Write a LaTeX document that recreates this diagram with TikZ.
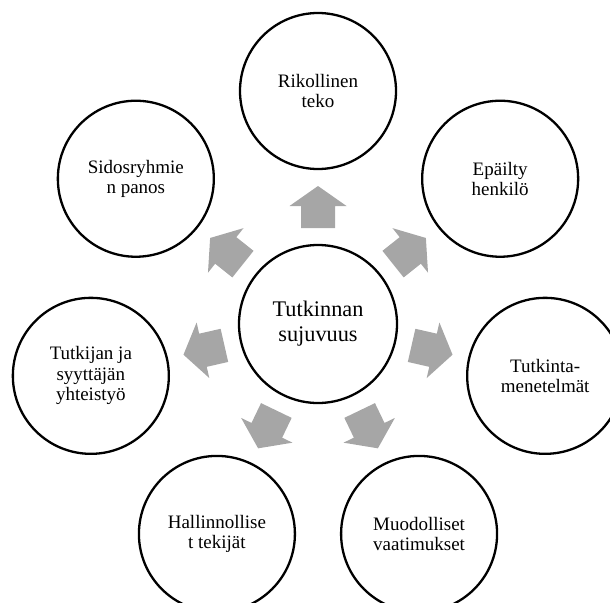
\documentclass[tikz,border=0pt]{standalone}
\usepackage{fontspec}
\setmainfont{Liberation Serif}
\usetikzlibrary{calc}
\definecolor{arrowgray}{RGB}{166,166,166}
\begin{document}
\begin{tikzpicture}[x=1pt,y=1pt,
  ring/.style={circle, draw=black, line width=2.3pt, fill=white, minimum size=156pt, inner sep=0pt, align=center, font=\fontsize{19}{20.4}\selectfont},
  hub/.style={ring, minimum size=158pt, font=\fontsize{22.3}{25}\selectfont},
  blockarrow/.style={fill=arrowgray, draw=none}]
\useasboundingbox (0,0) rectangle (610,-602);
\clip (0,0) rectangle (610,-602);
\coordinate (c) at (318,-324);
\node[hub] (ctr) at (c) {Tutkinnan\\sujuvuus};
\node[ring] (n1) at ($(c)+(90:233)$) {Rikollinen\\teko};
\node[ring] (n2) at ($(c)+(38.571:233)$) {Epäilty\\henkilö};
\node[ring] (n3) at ($(c)+(-12.857:233)$) {Tutkinta-\\menetelmät};
\node[ring] (n4) at ($(c)+(-64.286:233)$) {Muodolliset\\vaatimukset};
\node[ring] (n5) at ($(c)+(-115.714:233)$) {Hallinnollise\\t tekijät};
\node[ring] (n6) at ($(c)+(-167.143:233)$) {Tutkijan ja\\syyttäjän\\yhteistyö};
\node[ring] (n7) at ($(c)+(141.429:233)$) {Sidosryhmie\\n panos};
\foreach \a in {90,38.571,-12.857,-64.286,-115.714,-167.143,141.429}{
  \begin{scope}[shift={(c)}, rotate=\a-90]
    \fill[blockarrow] (-17,96) -- (-17,118) -- (-28.5,118) -- (0,138) -- (28.5,118) -- (17,118) -- (17,96) -- cycle;
  \end{scope}
}
\end{tikzpicture}
\end{document}
